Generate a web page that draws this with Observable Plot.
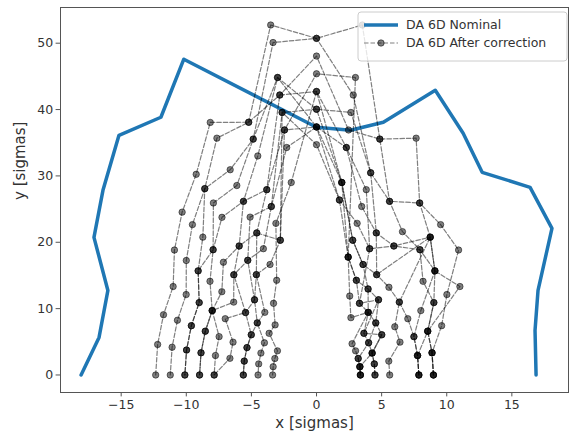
<!DOCTYPE html>
<html><head><meta charset="utf-8">
<script src="https://cdn.jsdelivr.net/npm/d3@7"></script>
<script src="https://cdn.jsdelivr.net/npm/@observablehq/plot@0.6"></script>
<style>body{margin:0;background:#fff}</style>
</head><body><div id="chart"></div>
<script>
// Tick labels
const xTicks = [-15, -10, -5, 0, 5, 10, 15];
const yTicks = [0, 10, 20, 30, 40, 50];

// DA 6D Nominal
const nomX = [-18.08,-16.70,-16.02,-17.09,-16.40,-15.17,-11.95,-10.19,0,2.61,5.13,9.12,11.26,12.72,16.40,18.08,17.01,16.78,16.86];
const nomY = [0,5.66,12.74,20.74,27.83,36.12,38.84,47.59,37.33,36.88,38.09,42.91,36.43,30.54,28.28,22.10,12.74,6.71,0];

// DA 6D After correction (one curve per seed)
const s1x = [8.98,8.87,9.61,10.01,10.91,9.53,7.92,7.65,4.86,2.46,0,-2.82,-5.21,-8.16,-9.24,-10.32,-10.91,-11.01,-11.75,-12.20,-12.35];
const s1y = [0,3.34,7.43,12.12,18.83,22.66,25.92,35.69,35.55,36.92,48.06,42.19,38.09,38.06,30.24,24.54,18.83,13.33,9.08,4.60,0];
const s2x = [8.98,8.87,8.54,11.01,9.09,8.73,7.92,5.61,4.86,3.52,0,-3.52,-5.21,-7.65,-8.58,-9.53,-10.00,-10.01,-10.68,-11.09,-11.23];
const s2y = [0,3.34,6.60,13.33,15.69,20.77,25.92,26.17,35.55,52.74,50.73,52.74,38.09,35.69,28.08,22.66,17.26,12.12,8.25,4.18,0];
const s3x = [8.98,8.87,8.54,9.01,9.09,8.73,5.94,4.59,4.16,2.82,0,-3.34,-4.86,-6.63,-8.58,-8.73,-9.09,-9.01,-9.61,-9.98,-10.11];
const s3y = [0,3.34,6.60,10.91,15.69,20.77,19.44,21.41,30.47,42.19,50.73,50.10,35.55,30.93,28.08,20.77,15.69,10.91,7.43,3.76,0];
const s4x = [7.86,7.76,8.54,9.01,8.18,7.94,5.94,4.08,3.82,2.29,0,-2.99,-4.86,-6.12,-7.92,-7.94,-9.09,-9.01,-9.61,-9.98,-10.11];
const s4y = [0,2.93,6.60,10.91,14.12,18.88,19.44,19.03,27.93,34.28,37.38,44.83,35.55,28.55,25.92,18.88,15.69,10.91,7.43,3.76,0];
const s5x = [7.86,7.76,7.48,8.01,9.09,7.94,6.60,5.61,4.16,2.64,0,-2.99,-4.51,-5.61,-7.26,-7.94,-8.18,-8.01,-8.54,-8.87,-8.98];
const s5y = [0,2.93,5.78,9.70,15.69,18.88,21.60,26.17,30.47,39.56,40.05,44.83,33.01,26.17,23.76,18.88,14.12,9.70,6.60,3.34,0];
const s6x = [7.86,7.76,7.48,7.01,6.36,8.73,4.62,4.59,3.47,2.29,0,-2.82,-3.82,-5.61,-5.94,-7.15,-7.27,-8.01,-8.54,-8.87,-8.98];
const s6y = [0,2.93,5.78,8.48,10.98,20.77,15.12,21.41,25.39,34.28,42.72,42.19,27.93,26.17,19.44,16.99,12.55,9.70,6.60,3.34,0];
const s7x = [5.62,5.55,6.41,6.01,6.36,5.56,4.62,3.57,2.78,1.94,0,-2.64,-3.47,-5.10,-5.28,-6.35,-6.36,-8.01,-7.48,-7.76,-7.86];
const s7y = [0,2.09,4.95,7.27,10.98,13.22,15.12,16.65,20.31,29.01,40.05,39.56,25.39,23.79,17.28,15.10,10.98,9.70,5.78,2.93,0];
const s8x = [4.49,4.44,4.27,5.01,4.55,4.76,3.30,4.08,3.12,1.76,0,-2.46,-3.82,-4.59,-5.94,-6.35,-5.45,-7.01,-6.41,-6.65,-7.86];
const s8y = [0,1.67,3.30,6.06,7.85,11.33,10.80,19.03,22.85,26.37,37.38,36.92,27.93,21.41,19.44,15.10,9.41,8.48,4.95,2.51,0];
const s9x = [4.49,4.44,4.27,4.00,3.64,4.76,3.96,3.57,2.78,1.94,0,-2.29,-3.47,-4.08,-5.28,-4.76,-4.55,-5.01,-5.34,-5.55,-5.62];
const s9y = [0,1.67,3.30,4.85,6.28,11.33,12.96,16.65,20.31,29.01,37.38,34.28,25.39,19.03,17.28,11.33,7.85,6.06,4.13,2.09,0];
const s10x = [3.37,3.33,3.20,4.00,4.55,3.97,3.30,3.06,2.43,1.76,0,-2.64,-2.78,-4.59,-4.62,-4.76,-5.45,-5.01,-5.34,-5.55,-5.62];
const s10y = [0,1.25,2.48,4.85,7.85,9.44,10.80,14.27,17.77,26.37,34.71,39.56,20.31,21.41,15.12,11.33,9.41,6.06,4.13,2.09,0];
const s11x = [3.37,3.33,3.20,3.00,2.73,3.97,2.64,2.55,2.43,2.99,0,-2.46,-2.78,-3.57,-4.62,-3.97,-4.55,-4.00,-4.27,-4.44,-4.49];
const s11y = [0,1.25,2.48,3.64,4.71,9.44,8.64,11.90,17.77,44.83,45.39,36.92,20.31,16.65,15.12,9.44,7.85,4.85,3.30,1.67,0];
const s12x = [3.37,3.33,4.27,5.01,3.64,3.97,3.96,3.06,2.43,1.94,0,-1.94,-3.12,-3.06,-3.30,-3.18,-3.64,-3.00,-3.20,-3.33,-3.37];
const s12y = [0,1.25,3.30,6.06,6.28,9.44,12.96,14.27,17.77,29.01,42.72,29.01,22.85,14.27,10.80,7.55,6.28,3.64,2.48,1.25,0];

const seedsX = [s1x,s2x,s3x,s4x,s5x,s6x,s7x,s8x,s9x,s10x,s11x,s12x];
const seedsY = [s1y,s2y,s3y,s4y,s5y,s6y,s7y,s8y,s9y,s10y,s11y,s12y];

const rows = [];
seedsX.forEach((xs, i) => xs.forEach((x, k) => rows.push({seed: i, x, y: seedsY[i][k]})));
const nominal = nomX.map((x, i) => ({x, y: nomY[i]}));

const plot = Plot.plot({
  width: 576, height: 432,
  marginLeft: 60, marginRight: 8, marginTop: 7, marginBottom: 40,
  style: {fontFamily: "DejaVu Sans", fontSize: "12.5px", color: "#333", background: "white"},
  x: {domain: [-19.66, 19.35]},
  y: {domain: [-2.64, 55.38]},
  marks: [
    Plot.axisX({ticks: xTicks, tickSize: 4.4, tickPadding: 3, label: null, fontSize: 12.5, stroke: "#555"}),
    Plot.axisY({ticks: yTicks, tickSize: 4.4, tickPadding: 3, label: null, fontSize: 12.5, stroke: "#555"}),
    Plot.line(nominal, {x: "x", y: "y", stroke: "#1f77b4", strokeWidth: 3.5}),
    Plot.line(rows, {x: "x", y: "y", z: "seed", stroke: "black", strokeOpacity: 0.5, strokeWidth: 1.2, strokeDasharray: "4.5,2"}),
    Plot.dot(rows, {x: "x", y: "y", r: 3.2, fill: "black", fillOpacity: 0.5, stroke: "black", strokeOpacity: 0.5, strokeWidth: 1}),
    Plot.frame({stroke: "#555"}),
    Plot.text(["x [sigmas]"], {frameAnchor: "bottom", dy: 31, text: d => d, fontSize: 15, lineAnchor: "middle", fill: "#333"}),
    Plot.text(["y [sigmas]"], {frameAnchor: "left", dx: -40, rotate: -90, text: d => d, fontSize: 15, fill: "#333"})
  ]
});
document.getElementById("chart").appendChild(plot);

// Legend
const svg = d3.select(plot);
const lg = svg.append("g").attr("font-family", "DejaVu Sans").attr("font-size", 12.5)
  .attr("fill", "#333").attr("text-anchor", "start");
lg.append("rect").attr("x", 358).attr("y", 12).attr("width", 209).attr("height", 49).attr("rx", 3)
  .attr("fill", "white").attr("fill-opacity", 0.8).attr("stroke", "#ccc");
lg.append("line").attr("x1", 364).attr("x2", 398).attr("y1", 25).attr("y2", 25)
  .attr("stroke", "#1f77b4").attr("stroke-width", 3.5);
lg.append("text").attr("x", 406).attr("y", 25).attr("dy", "0.35em").attr("text-anchor", "start").text("DA 6D Nominal");
lg.append("line").attr("x1", 364).attr("x2", 398).attr("y1", 43).attr("y2", 43)
  .attr("stroke", "black").attr("stroke-opacity", 0.5).attr("stroke-width", 1.2).attr("stroke-dasharray", "4.5,2");
lg.append("circle").attr("cx", 381).attr("cy", 43).attr("r", 3.2).attr("fill", "black").attr("fill-opacity", 0.5)
  .attr("stroke", "black").attr("stroke-opacity", 0.5);
lg.append("text").attr("x", 406).attr("y", 43).attr("dy", "0.35em").attr("text-anchor", "start").text("DA 6D After correction");
</script>
</body></html>
